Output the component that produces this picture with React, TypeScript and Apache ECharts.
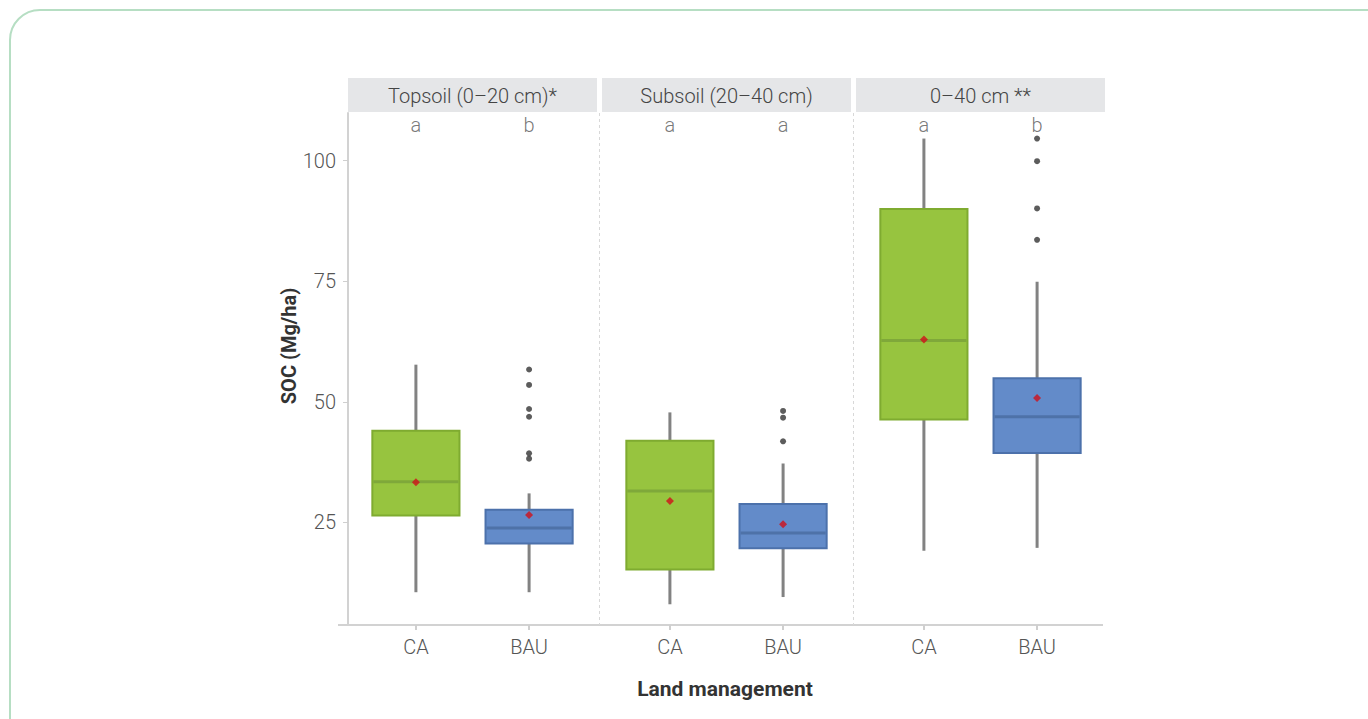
import { useEffect, useRef } from "react";
import * as echarts from "echarts";

// facets, treatments and the letters above each box
const PANELS = ["Topsoil (0–20 cm)*", "Subsoil (20–40 cm)", "0–40 cm **"];
const TREATMENTS = ["CA", "BAU"];
const LETTERS = [["a", "b"], ["a", "a"], ["a", "b"]];

// [min, Q1, median, Q3, max] per panel
const CA_BOX = [
  [10.5, 26.4, 33.4, 44.0, 57.7],
  [8.0, 15.2, 31.5, 41.9, 47.8],
  [19.1, 46.3, 62.7, 90.0, 104.6],
];
const BAU_BOX = [
  [10.5, 20.6, 23.8, 27.6, 31.0],
  [9.5, 19.6, 22.8, 28.8, 37.2],
  [19.7, 39.4, 46.9, 54.9, 74.9],
];
const CA_MEAN = [33.3, 29.4, 62.9];
const BAU_MEAN = [26.5, 24.6, 50.8];
const BAU_OUTLIERS = [
  [56.7, 53.5, 48.5, 46.9, 39.3, 38.2],
  [48.1, 46.7, 41.8],
  [104.6, 99.9, 90.1, 83.6],
];

const FONT = "Roboto, 'Noto Sans', sans-serif";
const BOX_W = 0.77;
const FILLS = ["#97c43f", "#638bc9"];
const BORDERS = ["#7fab30", "#4c71ab"];
const MEDIANS = ["#7fa83a", "#4e72a8"];
const WHISKER = "#828282";

const PANEL_LEFT = 348;
const PANEL_STEP = 254;
const PANEL_W = 249;
const TOP = 113;
const HEIGHT = 512;

export default function App() {
  const ref = useRef<HTMLDivElement>(null);

  useEffect(() => {
    document.body.style.margin = "0";
    if (!ref.current) return;
    const chart = echarts.init(ref.current, undefined, { renderer: "svg" });

    const grids = PANELS.map((_, i) => ({
      left: PANEL_LEFT + i * PANEL_STEP,
      top: TOP,
      width: PANEL_W,
      height: HEIGHT,
    }));

    const textStyle = { color: "#555", fontFamily: FONT, fontWeight: 300, fontSize: 20 };

    const xAxes = PANELS.map((_, i) => ({
      type: "value",
      gridIndex: i,
      min: 0.4,
      max: 2.6,
      axisLine: { show: false },
      splitLine: { show: false },
      axisTick: { show: true, length: 5, customValues: [1, 2], lineStyle: { color: "#cfcfcf", width: 2 } },
      axisLabel: {
        customValues: [1, 2],
        formatter: (v: number) => TREATMENTS[Math.round(v) - 1] ?? "",
        ...textStyle,
        margin: 12,
      },
    }));

    const yAxes = PANELS.map((_, i) => ({
      type: "value",
      gridIndex: i,
      min: 3.7,
      max: 109.9,
      splitLine: { show: false },
      axisLine: { show: i === 0, lineStyle: { color: "#d2d2d2", width: 2 } },
      axisTick: { show: i === 0, length: 5, customValues: [25, 50, 75, 100], lineStyle: { color: "#cfcfcf" } },
      axisLabel: {
        show: i === 0,
        customValues: [25, 50, 75, 100],
        ...textStyle,
        margin: 12,
      },
    }));

    const series: any[] = [];
    PANELS.forEach((_, i) => {
      series.push({
        type: "custom",
        xAxisIndex: i,
        yAxisIndex: i,
        data: [
          [1, ...CA_BOX[i], 0],
          [2, ...BAU_BOX[i], 1],
        ],
        renderItem: (_p: any, api: any) => {
          const x = api.value(0);
          const lo = api.coord([x, api.value(1)]);
          const q1 = api.coord([x, api.value(2)]);
          const med = api.coord([x, api.value(3)]);
          const q3 = api.coord([x, api.value(4)]);
          const hi = api.coord([x, api.value(5)]);
          const k = api.value(6);
          const half = api.size([BOX_W, 0])[0] / 2;
          return {
            type: "group",
            children: [
              { type: "line", shape: { x1: lo[0], y1: lo[1], x2: q1[0], y2: q1[1] }, style: { stroke: WHISKER, lineWidth: 3 } },
              { type: "line", shape: { x1: q3[0], y1: q3[1], x2: hi[0], y2: hi[1] }, style: { stroke: WHISKER, lineWidth: 3 } },
              {
                type: "rect",
                shape: { x: q3[0] - half, y: q3[1], width: half * 2, height: q1[1] - q3[1] },
                style: { fill: FILLS[k], stroke: BORDERS[k], lineWidth: 2 },
              },
              {
                type: "line",
                shape: { x1: med[0] - half + 1, y1: med[1], x2: med[0] + half - 1, y2: med[1] },
                style: { stroke: MEDIANS[k], lineWidth: 3 },
              },
            ],
          };
        },
      });
      series.push({
        type: "scatter",
        xAxisIndex: i,
        yAxisIndex: i,
        symbolSize: 6,
        itemStyle: { color: "#333" },
        data: BAU_OUTLIERS[i].map((v) => [2, v]),
      });
      series.push({
        type: "scatter",
        xAxisIndex: i,
        yAxisIndex: i,
        symbol: "diamond",
        symbolSize: 8,
        itemStyle: { color: "#d0101a" },
        data: [
          [1, CA_MEAN[i]],
          [2, BAU_MEAN[i]],
        ],
      });
      series.push({
        type: "scatter",
        xAxisIndex: i,
        yAxisIndex: i,
        symbolSize: 0,
        data: LETTERS[i].map((l, j) => [j + 1, 107.4, l]),
        label: {
          show: true,
          position: "inside",
          formatter: (p: any) => p.value[2],
          ...textStyle,
        },
      });
    });

    const graphics: any[] = [
      {
        type: "rect",
        shape: { x: 10, y: 10, width: 1420, height: 740, r: 30 },
        style: { fill: "none", stroke: "#b6dec3", lineWidth: 2 },
        silent: true,
      },
      { type: "line", shape: { x1: 338, y1: 625, x2: 1103, y2: 625 }, style: { stroke: "#d2d2d2", lineWidth: 2 } },
    ];
    PANELS.forEach((name, i) => {
      const x = PANEL_LEFT + i * PANEL_STEP;
      graphics.push({ type: "rect", shape: { x, y: 78, width: PANEL_W, height: 34 }, style: { fill: "#e5e6e8" } });
      graphics.push({
        type: "text",
        x: x + PANEL_W / 2,
        y: 96,
        style: { text: name, fill: "#444", font: `300 20px ${FONT}`, align: "center", verticalAlign: "middle" },
      });
      if (i > 0) {
        graphics.push({
          type: "line",
          shape: { x1: x - 2.5, y1: TOP, x2: x - 2.5, y2: TOP + HEIGHT },
          style: { stroke: "#d8d8d8", lineWidth: 1, lineDash: [3, 3] },
        });
      }
    });
    graphics.push({
      type: "text",
      x: 725,
      y: 689,
      style: { text: "Land management", fill: "#333", font: `bold 21px ${FONT}`, align: "center", verticalAlign: "middle" },
    });
    graphics.push({
      type: "text",
      x: 289,
      y: 346,
      rotation: Math.PI / 2,
      style: { text: "SOC (Mg/ha)", fill: "#333", font: `bold 20px ${FONT}`, align: "center", verticalAlign: "middle" },
    });

    chart.setOption({
      animation: false,
      backgroundColor: "#fff",
      grid: grids,
      xAxis: xAxes,
      yAxis: yAxes,
      series,
      graphic: graphics,
    });

    return () => chart.dispose();
  }, []);

  return <div ref={ref} style={{ width: 1368, height: 719 }} />;
}
